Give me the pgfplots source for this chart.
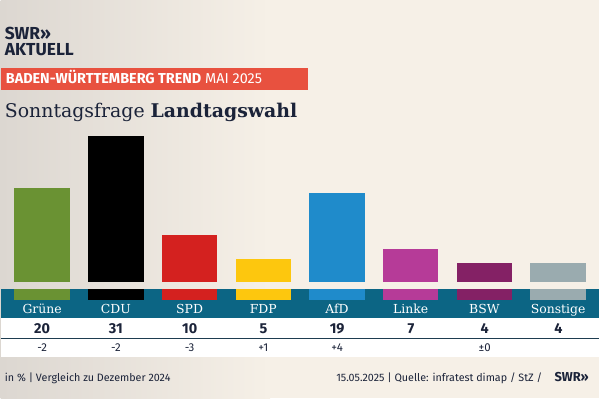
\documentclass[border=0pt]{standalone}
\usepackage{pgfplots}
\pgfplotsset{compat=1.18}
\usepackage{fontspec}
\setmainfont{DejaVu Serif}
\newfontfamily\sans{Fira Sans}
\definecolor{cream}{HTML}{F6F0E7}
\definecolor{bggray}{HTML}{DCD7D1}
\definecolor{bandteal}{HTML}{0C6584}
\definecolor{bannerred}{HTML}{E8513F}
\definecolor{navy}{HTML}{1B2339}
\definecolor{linecol}{HTML}{1E3C50}
\definecolor{gruene}{HTML}{6A9233}
\definecolor{cdu}{HTML}{000000}
\definecolor{spd}{HTML}{D4211F}
\definecolor{fdp}{HTML}{FDC70E}
\definecolor{afd}{HTML}{1F8BCB}
\definecolor{linke}{HTML}{B63B98}
\definecolor{bsw}{HTML}{842165}
\definecolor{sonst}{HTML}{9AABAF}
\begin{document}
\begin{tikzpicture}[x=1bp,y=1bp]
% background
\fill[cream] (0,0) rectangle (600,399);
\shade[left color=bggray, right color=cream] (0,0) rectangle (270,399);
% bands
\fill[bandteal] (0,80) rectangle (600,109);
\fill[white] (0,41) rectangle (600,80);
\draw[line width=1.5bp, linecol] (0,59.5) -- (600,59.5);
% logo
\node[anchor=base west, inner sep=0, text=navy] at (4,359) {\sans\bfseries\fontsize{17.5}{17.5}\selectfont SWR»};
\node[anchor=base west, inner sep=0, text=navy] at (4,343) {\sans\bfseries\fontsize{17.5}{17.5}\selectfont AKTUELL};
% banner
\fill[bannerred] (0,309) rectangle (308,331.3);
\node[anchor=base west, inner sep=0, text=white] at (5,315) {\sans\fontsize{14.5}{14.5}\selectfont\textbf{BADEN-WÜRTTEMBERG TREND} MAI 2025};
% title
\node[anchor=base west, inner sep=0, text=navy] at (4,281) {\fontsize{19}{19}\selectfont Sonntagsfrage \textbf{Landtagswahl}};
% main bars
\begin{axis}[at={(0bp,116.3bp)}, anchor=south west, scale only axis,
  width=600bp, height=152.7bp, xmin=-0.5616, xmax=7.558, ymin=0, ymax=32.42,
  hide axis, ybar, bar width=55.6bp, clip=false]
\addplot[fill=gruene, draw=none, bar shift=0pt] coordinates {(0,20)};
\addplot[fill=cdu, draw=none, bar shift=0pt] coordinates {(1,31)};
\addplot[fill=spd, draw=none, bar shift=0pt] coordinates {(2,10)};
\addplot[fill=fdp, draw=none, bar shift=0pt] coordinates {(3,5)};
\addplot[fill=afd, draw=none, bar shift=0pt] coordinates {(4,19)};
\addplot[fill=linke, draw=none, bar shift=0pt] coordinates {(5,7)};
\addplot[fill=bsw, draw=none, bar shift=0pt] coordinates {(6,4)};
\addplot[fill=sonst, draw=none, bar shift=0pt] coordinates {(7,4)};
\end{axis}
% strip in band with category labels
\begin{axis}[at={(0bp,98bp)}, anchor=south west, scale only axis,
  width=600bp, height=11bp, xmin=-0.5616, xmax=7.558, ymin=0, ymax=1,
  axis line style={draw=none}, major tick length=0pt, ytick=\empty,
  xtick={0,...,7}, xticklabels={Grüne,CDU,SPD,FDP,AfD,Linke,BSW,Sonstige},
  xticklabel style={text=white, font=\fontsize{12.5}{12.5}\selectfont, anchor=base, yshift=-13.7bp, inner sep=0pt},
  ybar, bar width=55.6bp, clip=false]
\addplot[fill=gruene, draw=none, bar shift=0pt] coordinates {(0,1)};
\addplot[fill=cdu, draw=none, bar shift=0pt] coordinates {(1,1)};
\addplot[fill=spd, draw=none, bar shift=0pt] coordinates {(2,1)};
\addplot[fill=fdp, draw=none, bar shift=0pt] coordinates {(3,1)};
\addplot[fill=afd, draw=none, bar shift=0pt] coordinates {(4,1)};
\addplot[fill=linke, draw=none, bar shift=0pt] coordinates {(5,1)};
\addplot[fill=bsw, draw=none, bar shift=0pt] coordinates {(6,1)};
\addplot[fill=sonst, draw=none, bar shift=0pt] coordinates {(7,1)};
\end{axis}
% values and changes
\foreach \v/\c [count=\i from 0] in {20/-2,31/-2,10/-3,5/+1,19/+4,7/{},4/{\char"00B1 0},4/{}}{
  \node[anchor=base, inner sep=0, text=navy] at (41.5+73.93*\i,64.5) {\sans\bfseries\fontsize{14.5}{14.5}\selectfont \v};
  \node[anchor=base, inner sep=0, text=navy] at (41.5+73.93*\i,46.3) {\sans\fontsize{11.5}{11.5}\selectfont \c};
}
% footer
\node[anchor=base west, inner sep=0, text=navy] at (4,16.7) {\sans\fontsize{10.8}{10.8}\selectfont in \% | Vergleich zu Dezember 2024};
\node[anchor=base east, inner sep=0, text=navy] at (543,16.7) {\sans\fontsize{10.8}{10.8}\selectfont 15.05.2025 | Quelle: infratest dimap / StZ /};
\node[anchor=base west, inner sep=0, text=navy] at (555,16.7) {\sans\bfseries\fontsize{13}{13}\selectfont SWR»};
\end{tikzpicture}
\end{document}
